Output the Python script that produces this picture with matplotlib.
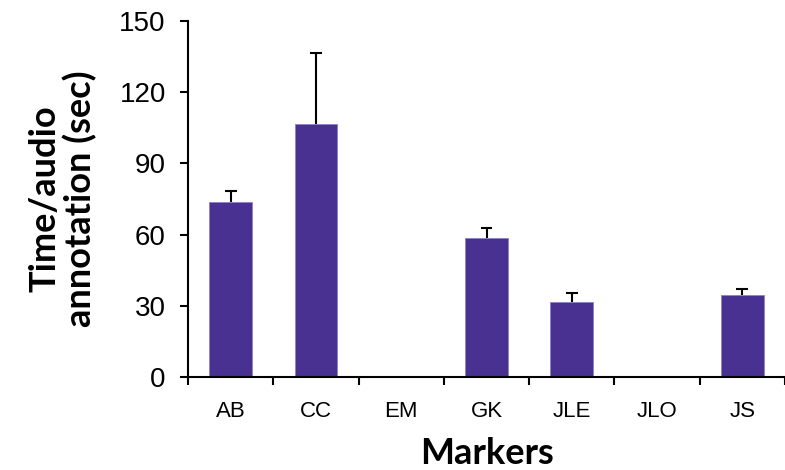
import numpy as np
import matplotlib.pyplot as plt

# data
markers = ['AB', 'CC', 'EM', 'GK', 'JLE', 'JLO', 'JS']
mean_time = [73.6, 106.5, 0, 58.6, 31.7, 0, 34.7]
err_up = [5.0, 30.0, 0, 4.2, 3.7, 0, 2.5]

bar_color = '#483190'

fig = plt.figure(figsize=(7.85, 4.70), dpi=100)
ax = fig.add_axes([0.2395, 0.198, 0.7605, 0.757])

x = np.arange(len(markers))
ax.bar(x, mean_time, width=0.5, color=bar_color, edgecolor='#8f80c8', linewidth=0.6, zorder=2)

# upper error bars only, skip empty categories
mask = np.array(err_up) > 0
xs = x[mask]
ys = np.array(mean_time)[mask]
es = np.array(err_up)[mask]
ax.vlines(xs, ys, ys + es, color='black', linewidth=1.5, zorder=3)
ax.errorbar(xs, ys + es, xerr=0.07, fmt='none', ecolor='black', elinewidth=1.5, zorder=3)

ax.set_xlim(-0.5, len(markers) - 0.5)
ax.set_ylim(0, 150)
ax.set_yticks(np.arange(0, 151, 30))

ax.set_xticks(x)
ax.set_xticklabels(markers, family='Liberation Sans', fontsize=16)
ax.set_xticks(np.arange(-0.5, len(markers)), minor=True)
ax.tick_params(axis='x', which='major', length=0, pad=17)
ax.tick_params(axis='x', which='minor', length=6, width=1.5, direction='out')
ax.tick_params(axis='y', length=6, width=1.5, direction='out', labelsize=20, pad=10)
for lab in ax.get_yticklabels():
    lab.set_family('Liberation Sans')

for side in ['top', 'right']:
    ax.spines[side].set_visible(False)
for side in ['left', 'bottom']:
    ax.spines[side].set_linewidth(1.5)

ax.set_xlabel('Markers', family='Lato', fontweight='bold', fontsize=26, labelpad=11)
ax.set_ylabel('Time/audio\nannotation (sec)', family='Lato', fontweight='bold',
              fontsize=26, labelpad=16, linespacing=1.05)

fig.savefig('out.png', dpi=100)
